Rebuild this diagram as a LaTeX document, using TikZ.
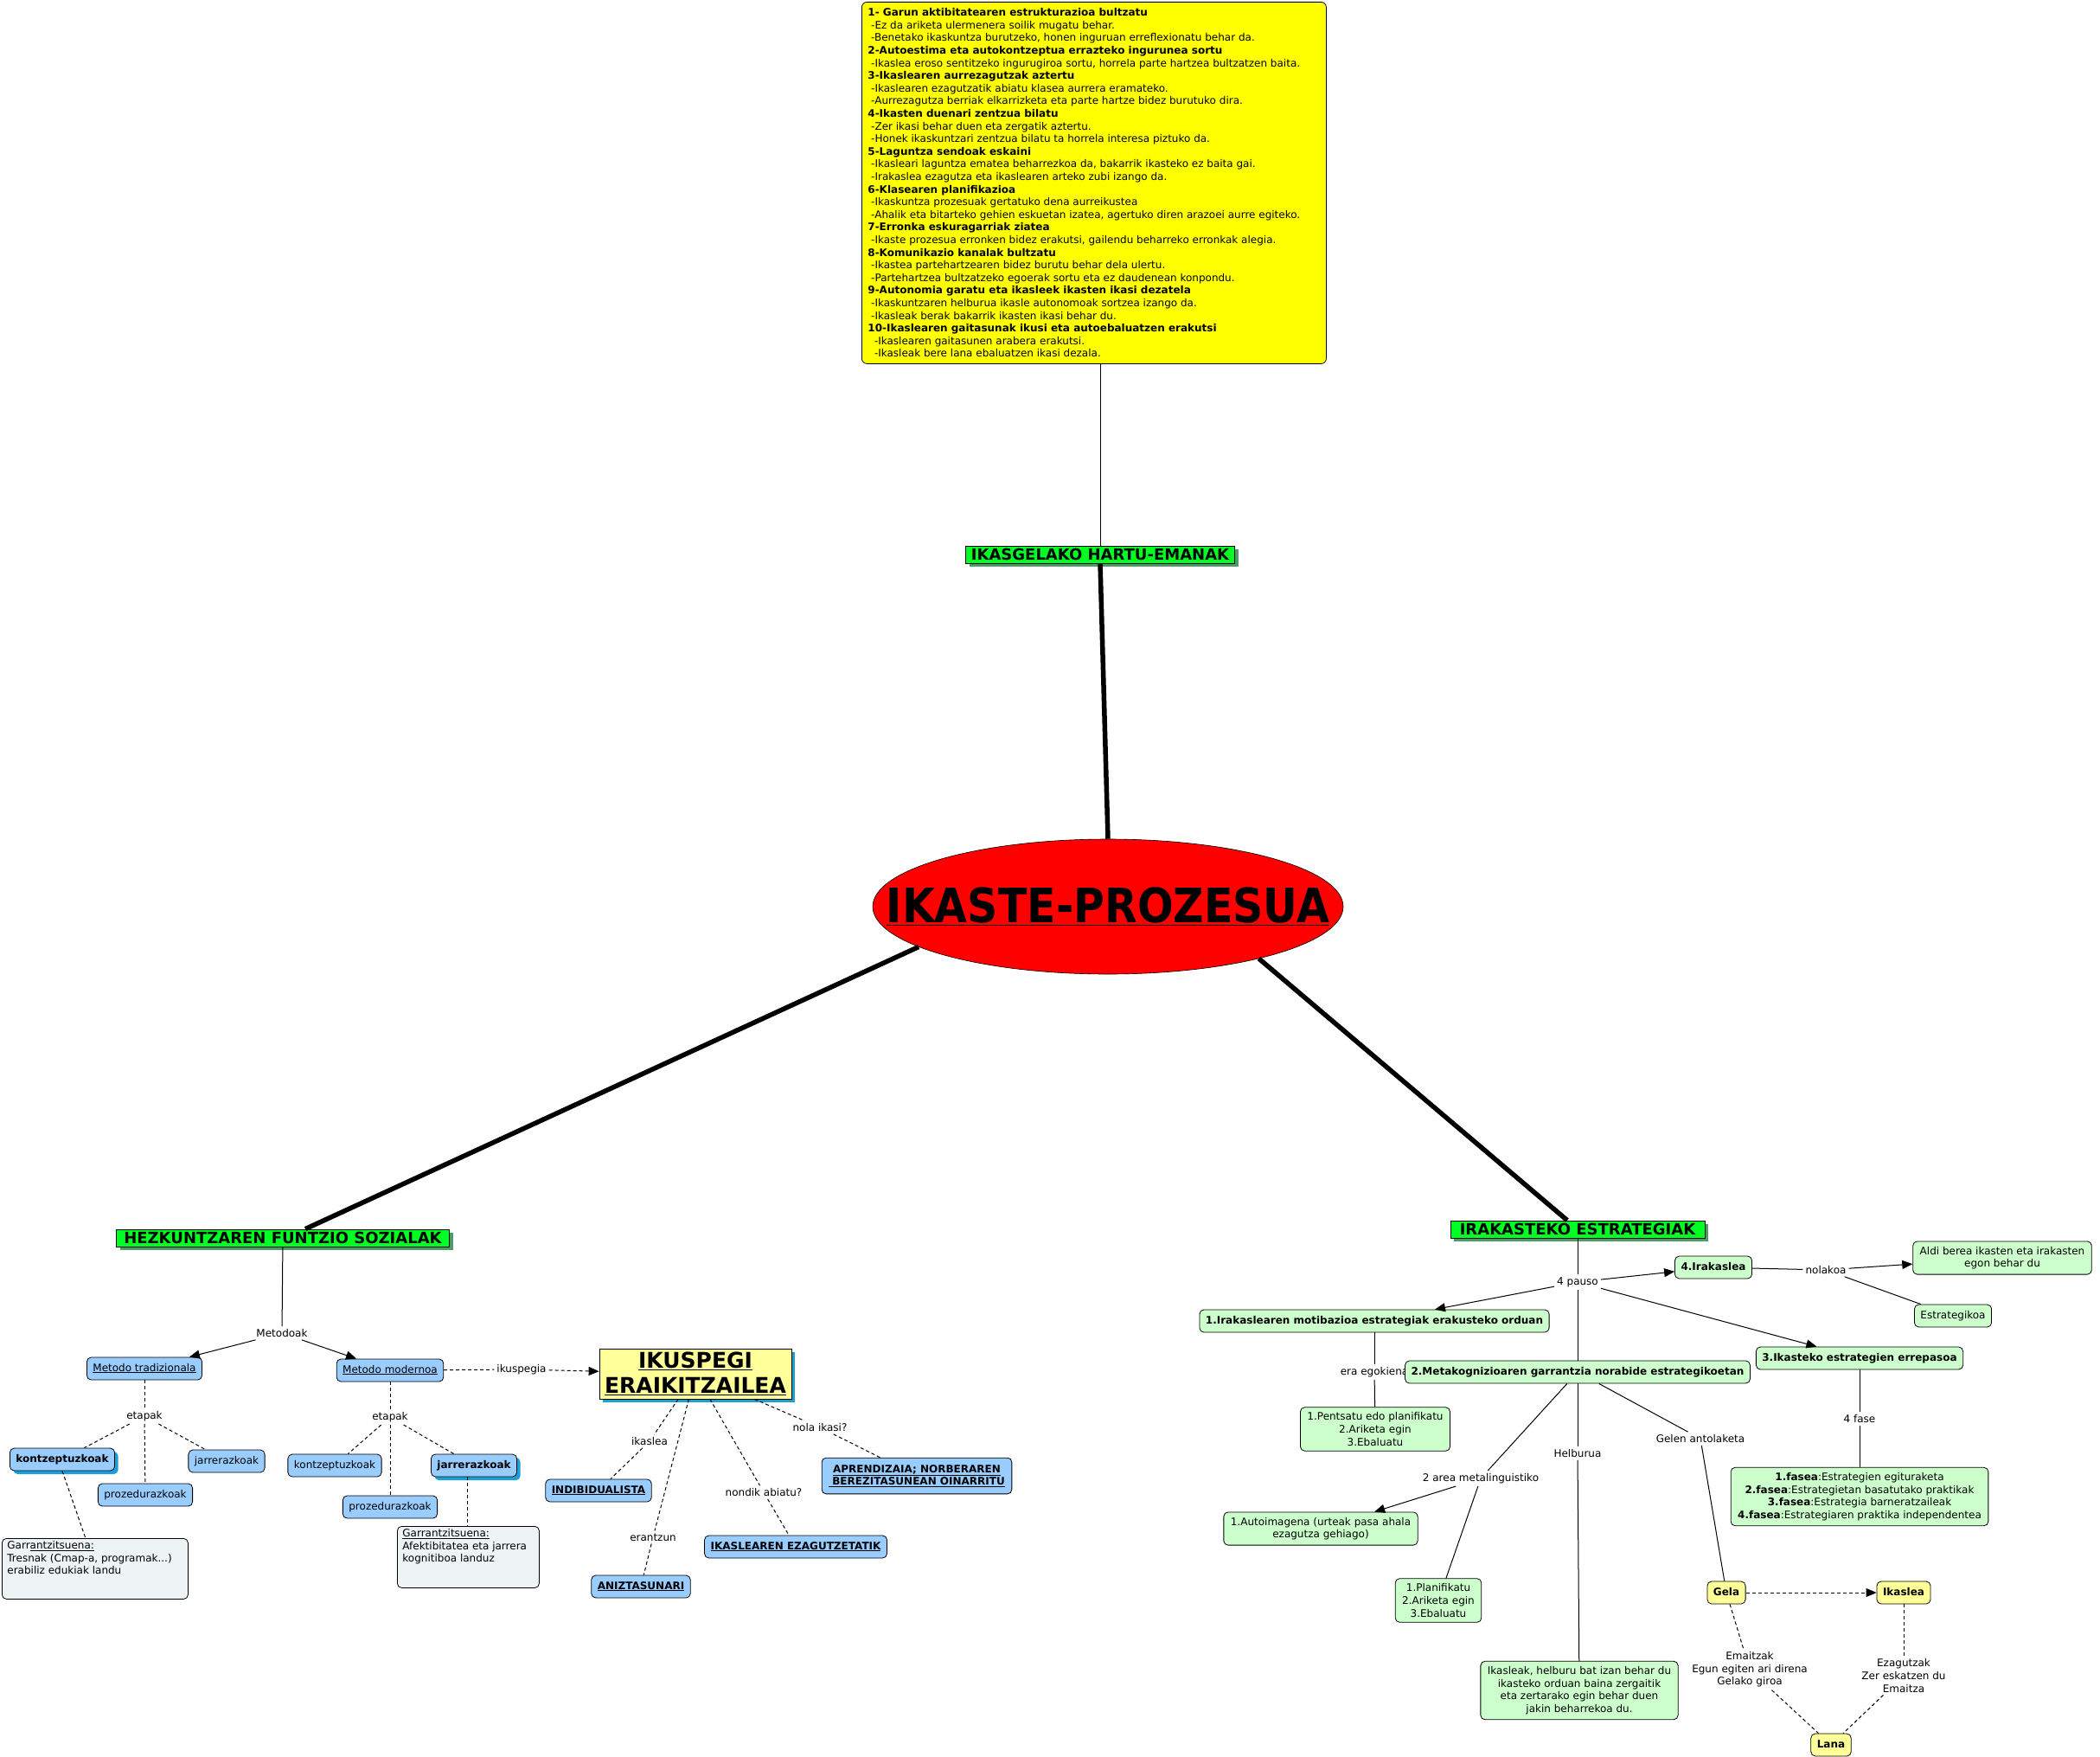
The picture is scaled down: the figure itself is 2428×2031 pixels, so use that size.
\documentclass[tikz,border=0pt]{standalone}
\usepackage{fontspec}
\setmainfont{DejaVu Sans}
\usetikzlibrary{arrows.meta,shapes.geometric,shadows,calc}
\newcommand{\myul}[1]{\underline{#1}}
\definecolor{cyellow}{HTML}{FFFF00}
\definecolor{clyel}{HTML}{FFFF99}
\definecolor{chead}{HTML}{00FF22}
\definecolor{cheadsh}{HTML}{4F9A66}
\definecolor{cred}{HTML}{FF0000}
\definecolor{cblue}{HTML}{99CCFF}
\definecolor{cbluesh}{HTML}{1E9ED6}
\definecolor{cgreen}{HTML}{CCFFCC}
\definecolor{cgrey}{HTML}{EEF4F5}
\tikzset{
  every node/.style={font=\fontsize{12}{14.6}\selectfont},
  bf/.style={font=\fontsize{12}{14.6}\selectfont\bfseries},
  box/.style={draw, rounded corners=5pt, line width=0.8pt, inner xsep=7pt, inner ysep=7pt, text height=9pt, text depth=3pt},
  mbox/.style={draw, rounded corners=5pt, line width=0.8pt, inner xsep=8pt, inner ysep=6pt, align=center},
  bbox/.style={box, fill=cblue},
  gbox/.style={box, fill=cgreen},
  gmbox/.style={mbox, fill=cgreen},
  ybox/.style={box, fill=clyel, bf},
  bshadow/.style={drop shadow={shadow xshift=4pt, shadow yshift=-4pt, fill=cbluesh, opacity=1}},
  head/.style={draw, fill=chead, line width=0.8pt, font=\fontsize{18}{20}\selectfont\bfseries, inner xsep=4pt, inner ysep=2pt, text height=14pt, text depth=2pt, drop shadow={shadow xshift=4pt, shadow yshift=-4pt, fill=cheadsh, opacity=1}},
  lbl/.style={inner sep=3pt},
  ln/.style={line width=1pt},
  dln/.style={line width=1pt, dash pattern=on 4pt off 3pt},
  tk/.style={line width=5.5pt},
  arr/.style={-{Triangle[length=12pt,width=10pt]}}
}
\begin{document}
\begin{tikzpicture}[x=1pt,y=-1pt]
\useasboundingbox (0,0) rectangle (2428,2031);
\fill[white] (0,0) rectangle (2428,2031);

% top yellow box
\node[draw, fill=cyellow, rounded corners=6pt, line width=0.8pt, anchor=north west, minimum width=537pt, minimum height=418pt, inner sep=0pt] (top) at (996,2)
{\parbox{523pt}{\fontsize{12}{14.6}\selectfont
\textbf{1- Garun aktibitatearen estrukturazioa bultzatu}\\
\hspace*{3.8pt}-Ez da ariketa ulermenera soilik mugatu behar.\\
\hspace*{3.8pt}-Benetako ikaskuntza burutzeko, honen inguruan erreflexionatu behar da.\\
\textbf{2-Autoestima eta autokontzeptua errazteko ingurunea sortu}\\
\hspace*{3.8pt}-Ikaslea eroso sentitzeko ingurugiroa sortu, horrela parte hartzea bultzatzen baita.\\
\textbf{3-Ikaslearen aurrezagutzak aztertu}\\
\hspace*{3.8pt}-Ikaslearen ezagutzatik abiatu klasea aurrera eramateko.\\
\hspace*{3.8pt}-Aurrezagutza berriak elkarrizketa eta parte hartze bidez burutuko dira.\\
\textbf{4-Ikasten duenari zentzua bilatu}\\
\hspace*{3.8pt}-Zer ikasi behar duen eta zergatik aztertu.\\
\hspace*{3.8pt}-Honek ikaskuntzari zentzua bilatu ta horrela interesa piztuko da.\\
\textbf{5-Laguntza sendoak eskaini}\\
\hspace*{3.8pt}-Ikasleari laguntza ematea beharrezkoa da, bakarrik ikasteko ez baita gai.\\
\hspace*{3.8pt}-Irakaslea ezagutza eta ikaslearen arteko zubi izango da.\\
\textbf{6-Klasearen planifikazioa}\\
\hspace*{3.8pt}-Ikaskuntza prozesuak gertatuko dena aurreikustea\\
\hspace*{3.8pt}-Ahalik eta bitarteko gehien eskuetan izatea, agertuko diren arazoei aurre egiteko.\\
\textbf{7-Erronka eskuragarriak ziatea}\\
\hspace*{3.8pt}-Ikaste prozesua erronken bidez erakutsi, gailendu beharreko erronkak alegia.\\
\textbf{8-Komunikazio kanalak bultzatu}\\
\hspace*{3.8pt}-Ikastea partehartzearen bidez burutu behar dela ulertu.\\
\hspace*{3.8pt}-Partehartzea bultzatzeko egoerak sortu eta ez daudenean konpondu.\\
\textbf{9-Autonomia garatu eta ikasleek ikasten ikasi dezatela}\\
\hspace*{3.8pt}-Ikaskuntzaren helburua ikasle autonomoak sortzea izango da.\\
\hspace*{3.8pt}-Ikasleak berak bakarrik ikasten ikasi behar du.\\
\textbf{10-Ikaslearen gaitasunak ikusi eta autoebaluatzen erakutsi}\\
\hspace*{7.6pt}-Ikaslearen gaitasunen arabera erakutsi.\\
\hspace*{7.6pt}-Ikasleak bere lana ebaluatzen ikasi dezala.}};

% headings and centre
\node[head, minimum width=311pt] (ikas) at (1272,641) {IKASGELAKO HARTU-EMANAK};
\node[ellipse, draw, fill=cred, line width=0.6pt, minimum width=544pt, minimum height=156pt, inner sep=0pt, font=\fontsize{49}{55}\selectfont\bfseries] (ell) at (1281,1048) {\makebox[0pt]{\scalebox{1}[1.12]{\myul{IKASTE-PROZESUA}}}};
\node[head, minimum width=385pt] (hez) at (327,1431) {HEZKUNTZAREN FUNTZIO SOZIALAK};
\node[head, minimum width=294pt] (irak) at (1824,1421) {IRAKASTEKO ESTRATEGIAK};

\draw[ln] (top.south -| ikas.north) -- (ikas.north);
\draw[tk] (ikas.south) -- (ell.north);
\draw[tk] (ell.192) -- ([xshift=26pt]hez.north);
\draw[tk] (ell.341) -- ([xshift=-12pt]irak.north);

% left subtree
\node[lbl] (metodoak) at (326,1541) {Metodoak};
\node[bbox] (trad) at (167,1582) {\myul{Metodo tradizionala}};
\node[bbox] (mod) at (451,1584) {\myul{Metodo modernoa}};
\node[lbl] (ikuspegia) at (603,1583) {ikuspegia};
\node[draw, fill=clyel, line width=0.8pt, minimum width=222pt, minimum height=58pt, inner sep=2pt, align=center, font=\fontsize{25}{29}\selectfont\bfseries, bshadow] (ikus) at (804,1588) {\myul{IKUSPEGI}\\\myul{ERAIKITZAILEA}};
\node[lbl] (etapakL) at (167,1637) {etapak};
\node[bbox, bf, bshadow] (konzL) at (72,1687) {kontzeptuzkoak};
\node[bbox] (jarrL) at (262,1689) {jarrerazkoak};
\node[bbox] (prozL) at (168,1728) {prozedurazkoak};
\node[draw, rounded corners=5pt, fill=cgrey, line width=0.8pt, anchor=north west, inner sep=0pt, minimum width=215pt, minimum height=70pt] (garrL) at (2,1778)
{\parbox[c][64pt][t]{203pt}{\mbox{Garr\myul{antzitsuena:}}\\\mbox{Tresnak (Cmap-a, programak...)}\\\mbox{erabiliz edukiak landu}}};
\node[lbl] (etapakR) at (451,1638) {etapak};
\node[bbox] (konzR) at (387,1694) {kontzeptuzkoak};
\node[bbox, bf, bshadow] (jarrR) at (548,1694) {jarrerazkoak};
\node[bbox] (prozR) at (451,1742) {prozedurazkoak};
\node[draw, rounded corners=5pt, fill=cgrey, line width=0.8pt, anchor=north west, inner sep=0pt, minimum width=164pt, minimum height=71pt] (garrR) at (459,1764)
{\parbox[c][65pt][t]{152pt}{\mbox{\myul{Garrantzitsuena:}}\\\mbox{Afektibitatea eta jarrera}\\\mbox{kognitiboa landuz}}};

\node[lbl] (ikaslea) at (751,1666) {ikaslea};
\node[bbox, bf] (indib) at (692,1723) {\myul{INDIBIDUALISTA}};
\node[lbl] (erantzun) at (755,1777) {erantzun};
\node[bbox, bf] (aniz) at (741,1834) {\myul{ANIZTASUNARI}};
\node[lbl] (nondik) at (883,1725) {nondik abiatu?};
\node[bbox, bf] (ikaslearen) at (920,1788) {\myul{IKASLEAREN EZAGUTZETATIK}};
\node[lbl] (nola) at (948,1650) {nola ikasi?};
\node[mbox, fill=cblue, bf, inner ysep=8pt] (apren) at (1060,1706) {\myul{APRENDIZAIA; NORBERAREN}\\\myul{\ BEREZITASUNEAN OINARRITU}};

\draw[ln] (hez) -- (metodoak);
\draw[ln, arr] (metodoak) -- (trad);
\draw[ln, arr] (metodoak) -- (mod);
\draw[dln] (mod) -- (ikuspegia);
\draw[dln, arr] (ikuspegia) -- (ikus);
\draw[dln] (trad) -- (etapakL);
\draw[dln] (etapakL) -- (konzL);
\draw[dln] (etapakL) -- (jarrL);
\draw[dln] (etapakL) -- (prozL);
\draw[dln] (konzL.south) -- ([xshift=-11pt]garrL.north);
\draw[dln] (mod) -- (etapakR);
\draw[dln] (etapakR) -- (konzR);
\draw[dln] (etapakR) -- (jarrR);
\draw[dln] (etapakR) -- (prozR);
\draw[dln] ([xshift=-8pt]jarrR.south) -- ([xshift=-8pt]jarrR.south |- garrR.north);
\draw[dln] (ikus) -- (ikaslea);
\draw[dln] (ikaslea) -- (indib);
\draw[dln] (ikus) -- (erantzun);
\draw[dln] (erantzun) -- (aniz);
\draw[dln] (ikus) -- (nondik);
\draw[dln] (nondik) -- (ikaslearen);
\draw[dln] (ikus) -- (nola);
\draw[dln] (nola) -- (apren);

% right subtree
\node[lbl] (pauso) at (1824,1482) {4 pauso};
\node[gbox, bf] (irak4) at (1981,1465) {4.Irakaslea};
\node[lbl] (nolakoa) at (2111,1468) {nolakoa};
\node[gmbox] (aldi) at (2315,1454) {Aldi berea ikasten eta irakasten\\egon behar du};
\node[gbox] (estrat) at (2258,1521) {Estrategikoa};
\node[gbox, bf] (irak1) at (1589,1527) {1.Irakaslearen motibazioa estrategiak erakusteko orduan};
\node[lbl] (eraeg) at (1589,1586) {era egokiena};
\node[gbox, bf] (meta2) at (1824,1586) {2.Metakognizioaren garrantzia norabide estrategikoetan};
\node[gbox, bf] (ikas3) at (2150,1570) {3.Ikasteko estrategien errepasoa};
\node[gmbox] (pents) at (1590,1652) {1.Pentsatu edo planifikatu\\2.Ariketa egin\\3.Ebaluatu};
\node[lbl] (fase4) at (2150,1640) {4 fase};
\node[gmbox] (fasea) at (2150,1730) {\textbf{1.fasea}:Estrategien egituraketa\\\textbf{2.fasea}:Estrategietan basatutako praktikak\\\textbf{3.fasea}:Estrategia barneratzaileak\\\textbf{4.fasea}:Estrategiaren praktika independentea};
\node[lbl] (area2) at (1712,1709) {2 area metalinguistiko};
\node[gmbox] (autoim) at (1527,1767) {1.Autoimagena (urteak pasa ahala\\ezagutza gehiago)};
\node[gmbox] (planif) at (1663,1850) {1.Planifikatu\\2.Ariketa egin\\3.Ebaluatu};
\node[lbl] (helb) at (1824,1680) {Helburua};
\node[gmbox] (ikasleak) at (1826,1954) {Ikasleak, helburu bat izan behar du\\ikasteko orduan baina zergaitik\\eta zertarako egin behar duen\\jakin beharrekoa du.};
\node[lbl] (gelen) at (1966,1663) {Gelen antolaketa};
\node[ybox] (gela) at (1996,1841) {Gela};
\node[ybox] (ikaslea2) at (2201,1841) {Ikaslea};
\node[lbl, align=center] (emaitzak) at (2023,1930) {Emaitzak\\Egun egiten ari direna\\Gelako giroa};
\node[lbl, align=center] (ezagutzak) at (2201,1937) {Ezagutzak\\Zer eskatzen du\\Emaitza};
\node[ybox] (lana) at (2117,2017) {Lana};

\draw[ln] (irak) -- (pauso);
\draw[ln, arr] (pauso) -- (irak4);
\draw[ln, arr] (pauso) -- (irak1);
\draw[ln, arr] (pauso) -- (ikas3);
\draw[ln] (pauso) -- (meta2);
\draw[ln] (irak4) -- (nolakoa);
\draw[ln, arr] (nolakoa) -- (aldi);
\draw[ln] (nolakoa) -- (estrat);
\draw[ln] (irak1) -- (eraeg);
\draw[ln] (eraeg) -- (pents);
\draw[ln] (ikas3) -- (fase4);
\draw[ln] (fase4) -- (fasea);
\draw[ln] (meta2) -- (area2);
\draw[ln, arr] (area2) -- (autoim);
\draw[ln] (area2) -- (planif);
\draw[ln] (meta2) -- (helb);
\draw[ln] (helb) -- (ikasleak);
\draw[ln] (meta2) -- (gelen);
\draw[ln] (gelen) -- (gela);
\draw[dln, arr] (gela) -- (ikaslea2);
\draw[dln] (gela) -- (emaitzak);
\draw[dln] (emaitzak) -- (lana);
\draw[dln] (ikaslea2) -- (ezagutzak);
\draw[dln] (ezagutzak) -- (lana);
\end{tikzpicture}
\end{document}
